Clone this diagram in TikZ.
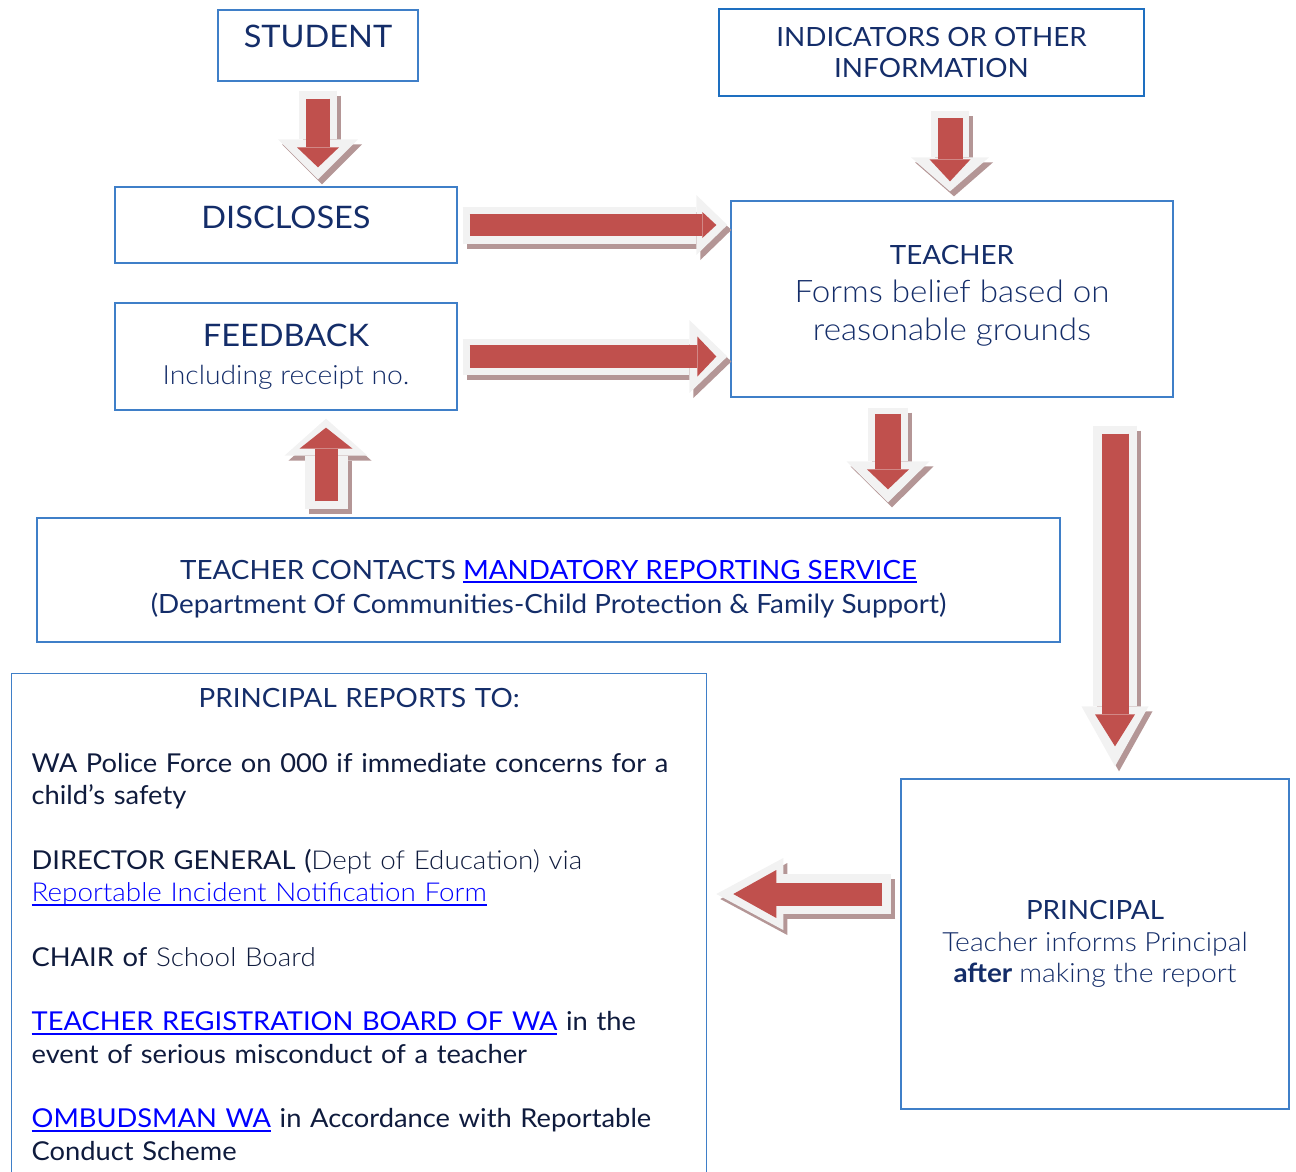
\documentclass[tikz,border=0pt]{standalone}
\usepackage{fontspec}
\setmainfont{Lato}[FakeStretch=1.05]
\newfontfamily\lightfont{Lato Light}[FakeStretch=1.07]
\usepackage{tikz}
\usetikzlibrary{arrows.meta,calc}

\definecolor{navy}{HTML}{142D69}
\definecolor{ink}{HTML}{0F1B3D}
\definecolor{boxblue}{HTML}{3F7FC8}
\definecolor{boxdeep}{HTML}{1E6FC0}
\definecolor{linkblue}{HTML}{0000FF}
\definecolor{arrowred}{HTML}{C0504D}
\definecolor{arrowrim}{HTML}{F2F2F2}
\definecolor{arrowshade}{HTML}{B49696}

\newcommand{\weblink}[1]{\leavevmode{\color{linkblue}\setbox0\hbox{#1}\rlap{\rule[-4pt]{\wd0}{1.8pt}}\box0}}

\begin{document}
\begin{tikzpicture}[x=1pt,y=-1pt,
    box/.style={draw=boxblue,line width=1.3pt,text=navy,align=center,inner sep=0pt},
    blockarrow/.style n args={8}{draw=arrowrim,line width=#1,
        -{Triangle[length=#2,width=#3,line width=0pt]},
        preaction={draw=arrowshade,line width=#1,
            -{Triangle[length=#2,width=#3,line width=0pt]},
            transform canvas={shift={(4,5)}}},
        postaction={draw=arrowred,line width=#4,
            -{Triangle[length=#5,width=#6,line width=0pt]},
            shorten <=#7,shorten >=#8}}]

    \useasboundingbox (0,0) rectangle (1296,1171);

    % boxes
    \node[box,minimum width=200pt,minimum height=71pt,font=\fontsize{31}{38}\selectfont,
        text height=22pt,text depth=19pt] (student) at (318,45.5) {STUDENT};
    \node[box,draw=boxdeep,line width=2.5pt,minimum width=425pt,minimum height=87pt,
        font=\fontsize{26.5}{31}\selectfont] (indicators) at (931.5,52.5) {INDICATORS OR OTHER\\ INFORMATION};
    \node[box,minimum width=342pt,minimum height=76pt,font=\fontsize{31}{38}\selectfont,
        text height=22pt,text depth=16pt] (discloses) at (286,225) {DISCLOSES};
    \node[box,minimum width=342pt,minimum height=107pt,font=\fontsize{26.5}{38}\selectfont]
        (feedback) at (286,356.5) {{\fontsize{31}{38}\selectfont FEEDBACK}\\ {\lightfont Including receipt no.}};
    \node[box,minimum width=442pt,minimum height=196pt,font=\fontsize{31}{38}\selectfont]
        (teacher) at (952,299) {{\fontsize{26.5}{38}\selectfont TEACHER}\\ {\lightfont Forms belief based on}\\
        {\lightfont reasonable grounds}\rule[-13pt]{0pt}{0pt}};
    \node[box,minimum width=1023pt,minimum height=124pt,font=\fontsize{26.5}{34}\selectfont]
        (mandatory) at (548.5,580) {\rule{0pt}{37pt}TEACHER CONTACTS \weblink{MANDATORY REPORTING SERVICE}\\
        (Department Of Communities-Child Protection \& Family Support)};
    \node[box,minimum width=388pt,minimum height=330pt,font=\fontsize{26.5}{31.5}\selectfont]
        (principal) at (1095,944) {PRINCIPAL\\ {\lightfont Teacher informs Principal}\\
        \textbf{after} {\lightfont making the report}};
    \node[box,anchor=north west,text width=655pt,inner xsep=20pt,inner ysep=15pt,align=left,
        text depth=462pt,font=\fontsize{26}{32.3}\selectfont] (reports) at (11,673) {%
        \makebox[\linewidth]{\fontsize{26.5}{32.3}\selectfont PRINCIPAL REPORTS TO:}\\[32.3pt]
        \color{ink}\mbox{WA Police Force on 000 if immediate concerns for a}\\
        child’s safety\\[32.3pt]
        DIRECTOR GENERAL ({\lightfont Dept of Education) via}\\
        {\lightfont\weblink{Reportable Incident Notification Form}}\\[32.3pt]
        CHAIR of {\lightfont School Board}\\[32.3pt]
        \mbox{\weblink{TEACHER REGISTRATION BOARD OF WA} in the}\\
        event of serious misconduct of a teacher\\[32.3pt]
        \mbox{\weblink{OMBUDSMAN WA} in Accordance with Reportable}\\
        Conduct Scheme};

    % helper points
    \coordinate (dn2) at ($(teacher.north)+(-2,0)$);
    \coordinate (up5) at ($(feedback.south)+(40,0)$);
    \coordinate (dn6) at ($(teacher.south)+(-64,0)$);
    \coordinate (dn7) at ($(principal.north)+(20,0)$);
    \coordinate (lf8) at ($(principal.west)+(0,-50)$);

    % arrows
    \draw[blockarrow={38pt}{40pt}{80pt}{24pt}{20pt}{42pt}{17pt}{19pt},shorten <=9pt,shorten >=7pt]
        (student.south) -- (student.south |- discloses.north);
    \draw[blockarrow={38pt}{34pt}{78pt}{25pt}{22pt}{41pt}{21pt}{19pt},shorten <=14pt,shorten >=9pt]
        (dn2 |- indicators.south) -- (dn2);
    \draw[blockarrow={37pt}{31pt}{60pt}{22pt}{14pt}{26pt}{12pt}{14pt},shorten <=5pt,shorten >=3pt]
        (discloses.east) -- (discloses.east -| teacher.west);
    \draw[blockarrow={36pt}{38pt}{73pt}{23pt}{19pt}{40pt}{12pt}{14pt},shorten <=5pt,shorten >=3pt]
        (feedback.east) -- (feedback.east -| teacher.west);
    \draw[blockarrow={43pt}{37pt}{83pt}{23pt}{21pt}{53pt}{16pt}{17pt},shorten <=8pt,shorten >=8pt]
        (up5 |- mandatory.north) -- (up5);
    \draw[blockarrow={40pt}{41pt}{83pt}{26pt}{20pt}{42pt}{16pt}{28pt},shorten <=10pt,shorten >=15pt]
        (dn6) -- (dn6 |- mandatory.north);
    \draw[blockarrow={44pt}{60pt}{67pt}{27pt}{32pt}{40pt}{36pt}{32pt},shorten <=28pt,shorten >=12pt]
        (dn7 |- teacher.south) -- (dn7);
    \draw[blockarrow={40pt}{67pt}{72pt}{23pt}{43pt}{48pt}{18pt}{26pt},shorten <=9pt,shorten >=9pt]
        (lf8) -- (lf8 -| reports.east);

\end{tikzpicture}
\end{document}
